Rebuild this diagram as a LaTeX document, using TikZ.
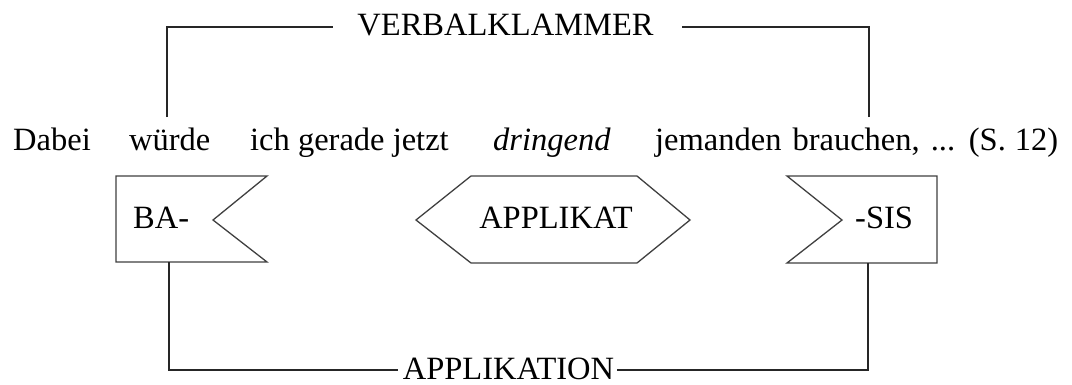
\documentclass[tikz,border=0pt]{standalone}
\usepackage{fontspec}
\setmainfont{Liberation Serif}
\begin{document}
\begin{tikzpicture}[x=1pt,y=-1pt,
  txt/.style={inner sep=0pt,font=\fontsize{32.5}{39}\selectfont,text=black},
  ln/.style={draw=black!85,line width=1.5pt,line join=miter},
  shp/.style={draw=black!75,line width=1.3pt,line join=miter}]
\useasboundingbox[fill=white] (0,0) rectangle (1072,384);
% sentence
\node[txt,anchor=base west] (w1) at (13,150) {Dabei};
\node[txt,anchor=base west] (w2) at (129,150) {würde};
\node[txt,anchor=base west] (w3) at (250,150) {ich gerade jetzt};
\node[txt,anchor=base west] (w4) at (493,150) {\itshape dringend};
\node[txt,anchor=base west] (w5) at (655,150) {\spaceskip=11pt jemanden brauchen, ... (S.\kern-2pt\ 12)};
% labels
\node[txt,anchor=base] (vk) at (505.5,35) {VERBALKLAMMER};
\node[txt,anchor=base] (ap) at (508.5,379) {APPLIKATION};
% shapes
\draw[shp] (116,176) -- (267,176) -- (213,220) -- (267,262) -- (116,262) -- cycle;
\node[txt,anchor=base west] (ba) at (133,228) {BA-};
\draw[shp] (416,220) -- (471,176) -- (637,176) -- (690,220) -- (637,263) -- (471,263) -- cycle;
\node[txt,anchor=base] (akt) at (556,228) {APPLIKAT};
\draw[shp] (787,176) -- (937,176) -- (937,263) -- (787,263) -- (842,220) -- cycle;
\node[txt,anchor=base west] (sis) at (855,228) {-SIS};
% bracket coordinates
\coordinate (tA) at (167,117);
\coordinate (tB) at (869,117);
\coordinate (vkL) at (333,27);
\coordinate (vkR) at (682,27);
\coordinate (bA) at (169,262);
\coordinate (bB) at (868,263);
\coordinate (apL) at (398,370);
\coordinate (apR) at (617,370);
\draw[ln] (tA) |- (vkL);
\draw[ln] (tB) |- (vkR);
\draw[ln] (bA) |- (apL);
\draw[ln] (bB) |- (apR);
\end{tikzpicture}
\end{document}
